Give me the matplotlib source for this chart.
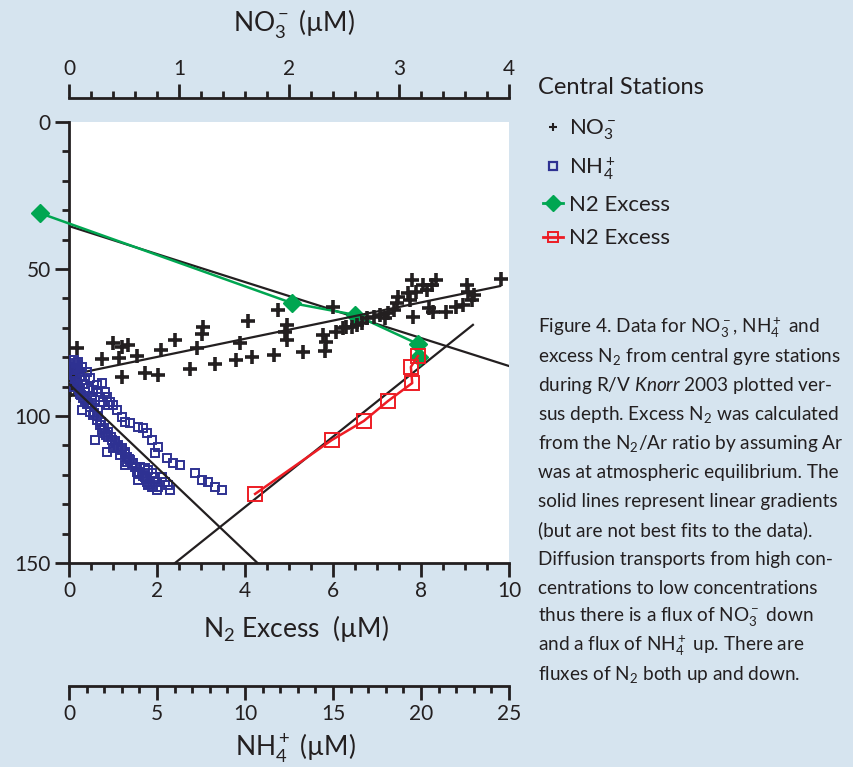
import matplotlib.pyplot as plt
from matplotlib.lines import Line2D
from matplotlib.ticker import MultipleLocator

plt.rcParams['font.family'] = ['Lato', 'DejaVu Sans']
plt.rcParams['mathtext.fontset'] = 'custom'
plt.rcParams['mathtext.rm'] = 'Lato'
plt.rcParams['mathtext.it'] = 'Lato:italic'
plt.rcParams['mathtext.default'] = 'rm'

BG = '#d6e4ef'
INK = '#231f20'
BLUE = '#2e3192'
GREEN = '#00a651'
RED = '#ed1c24'

# NO3- (uM) and depth (m)
no3_conc = [0.00, 0.02, 0.00, 0.03, 0.01, 0.04, 0.00, 0.05, 0.07, 0.30, 0.40, 0.48,
            0.54, 0.45, 0.62, 0.48, 0.69, 0.81, 0.84, 0.96, 1.10, 1.16, 1.21, 1.22,
            1.33, 1.52, 1.55, 1.63, 1.66, 1.86, 1.90, 1.98, 1.98, 1.96, 2.13, 2.31,
            2.34, 2.33, 2.40, 2.43, 2.49, 2.52, 2.57, 2.62, 2.66, 2.71, 2.77, 2.83,
            2.87, 2.90, 2.95, 2.98, 2.99, 3.08, 3.12, 3.10, 3.15, 3.22, 3.25, 3.30,
            3.34, 3.13, 3.27, 3.31, 3.43, 3.52, 3.58, 3.62, 3.63, 3.66, 3.68, 3.93]
no3_depth = [84.0, 86.0, 88.0, 89.0, 91.0, 87.0, 93.0, 90.0, 77.0, 80.7, 75.3, 76.6,
             75.9, 80.4, 79.5, 86.8, 85.3, 86.1, 77.6, 74.1, 84.1, 77.0, 72.1, 69.6,
             82.3, 81.0, 75.1, 67.7, 80.0, 79.3, 63.9, 69.0, 74.1, 71.3, 78.1, 72.4,
             74.7, 77.8, 63.0, 71.3, 70.2, 69.6, 69.6, 69.0, 68.5, 66.8, 66.2, 65.6,
             66.8, 65.1, 63.9, 61.7, 59.4, 58.3, 53.7, 60.5, 57.7, 55.4, 57.1, 55.4,
             53.7, 66.2, 63.4, 64.5, 64.5, 62.8, 62.2, 55.4, 57.7, 60.5, 58.8, 53.4]

# NH4+ (uM) and depth (m)
nh4_conc = [0.30, 0.40, 0.50, 0.35, 0.60, 0.25, 0.45, 0.80, 0.30, 0.55, 0.70, 0.90,
            0.53, 0.72, 0.44, 1.00, 0.63, 0.91, 1.19, 1.86, 1.57, 1.10, 1.38, 1.66,
            2.05, 1.29, 1.76, 2.14, 2.33, 1.95, 1.48, 1.10, 2.52, 2.23, 2.71, 1.66,
            0.72, 1.19, 1.38, 2.99, 1.57, 3.18, 3.47, 1.76, 3.94, 4.22, 1.86, 4.41,
            2.05, 2.23, 4.70, 1.48, 2.42, 2.61, 5.07, 2.80, 2.99, 2.52, 2.14, 3.18,
            4.89, 2.90, 3.28, 5.55, 3.47, 5.93, 3.65, 6.31, 3.18, 3.75, 4.03, 4.32,
            3.85, 4.13, 4.51, 4.70, 7.16, 4.89, 5.27, 4.32, 3.94, 4.41, 4.89, 5.46,
            5.64, 7.54, 7.92, 8.30, 8.68, 4.70, 5.74, 5.07,
            0.80, 1.00, 1.20, 1.40, 1.60, 1.80, 2.00, 2.20, 2.40, 2.60, 2.80, 3.00,
            3.20, 3.40, 3.60, 3.80, 4.00, 4.20, 4.40, 4.60, 4.80, 5.00, 2.10, 2.70,
            3.30, 3.90, 4.50, 1.30, 0.60, 0.90, 0.20, 0.35, 0.50, 0.65]
nh4_depth = [81.0, 82.0, 81.5, 84.0, 85.0, 86.0, 88.0, 89.0, 90.0, 91.0, 93.0, 94.5,
             82.7, 83.2, 84.4, 84.9, 86.6, 87.8, 87.2, 88.9, 89.5, 90.6, 91.2, 91.7,
             91.7, 93.4, 93.4, 93.4, 95.1, 95.1, 94.6, 95.7, 96.3, 96.3, 97.9, 97.9,
             97.9, 98.5, 99.7, 100.2, 101.4, 101.9, 102.5, 103.0, 103.6, 104.2, 104.8, 105.9,
             105.9, 107.0, 108.2, 108.2, 108.2, 109.3, 110.4, 110.4, 111.0, 111.0, 112.2, 112.2,
             112.7, 113.3, 113.8, 114.4, 115.0, 115.9, 116.1, 116.7, 116.7, 117.2, 117.2, 117.8,
             119.0, 119.5, 118.4, 119.5, 119.5, 120.7, 120.7, 120.7, 121.8, 122.3, 122.3, 122.3,
             123.4, 121.8, 122.3, 124.0, 125.2, 124.0, 125.0, 124.0,
             94.0, 96.0, 97.0, 99.0, 100.0, 102.0, 104.0, 105.5, 107.0, 108.5, 110.0, 111.5,
             113.0, 114.5, 116.0, 117.5, 119.0, 120.5, 121.5, 123.0, 124.0, 125.0, 106.5, 110.5,
             115.5, 119.8, 123.5, 95.5, 90.5, 92.0, 83.5, 87.0, 89.5, 92.5]

# N2 excess (uM) and depth (m), two sets
n2_green_conc = [-0.66, 5.07, 6.50, 7.93, 7.95]
n2_green_depth = [31.0, 61.6, 65.6, 75.5, 80.0]
n2_red_conc = [4.23, 5.97, 6.70, 7.25, 7.80, 7.77, 7.93]
n2_red_depth = [126.5, 108.2, 101.7, 94.9, 88.8, 83.3, 79.6]

# linear gradients (end points)
no3_grad_conc, no3_grad_depth = [0.0, 3.92], [86.1, 55.8]
nh4_grad_conc, nh4_grad_depth = [0.0, 10.71], [89.1, 150.0]
n2_down_conc, n2_down_depth = [0.0, 10.0], [35.4, 83.0]
n2_up_conc, n2_up_depth = [2.41, 9.18], [150.0, 69.0]

caption = [
    'Figure 4. Data for NO$_3^-$, NH$_4^+$ and',
    'excess N$_2$ from central gyre stations',
    'during R/V $\\mathit{Knorr}$ 2003 plotted ver-',
    'sus depth. Excess N$_2$ was calculated',
    'from the N$_2$/Ar ratio by assuming Ar',
    'was at atmospheric equilibrium. The',
    'solid lines represent linear gradients',
    '(but are not best fits to the data).',
    'Diffusion transports from high con-',
    'centrations to low concentrations',
    'thus there is a flux of NO$_3^-$ down',
    'and a flux of NH$_4^+$ up. There are',
    'fluxes of N$_2$ both up and down.',
]

W, H = 854, 767
fig = plt.figure(figsize=(W / 100, H / 100), dpi=100, facecolor=BG)
ax = fig.add_axes([69 / W, 1 - 563 / H, 440 / W, 441 / H])
ax.set_facecolor('white')
ax.set_xlim(0, 10)
ax.set_ylim(150, 0)
for s in ['top', 'right']:
    ax.spines[s].set_visible(False)
for s in ['left', 'bottom']:
    ax.spines[s].set_linewidth(2)
    ax.spines[s].set_color(INK)
ax.set_xticks(range(0, 11, 2))
ax.xaxis.set_minor_locator(MultipleLocator(0.5))
ax.set_yticks([0, 50, 100, 150])
ax.yaxis.set_minor_locator(MultipleLocator(10))
ax.tick_params(which='major', length=10, width=2, color=INK, labelsize=15,
               labelcolor=INK, pad=3)
ax.tick_params(which='minor', length=5, width=2, color=INK)

# NO3 scale on top
ax_no3 = ax.twiny()
ax_no3.set_xlim(0, 4)
for s in ['bottom', 'left', 'right']:
    ax_no3.spines[s].set_visible(False)
ax_no3.spines['top'].set_position(('outward', 17))
ax_no3.spines['top'].set_linewidth(2)
ax_no3.spines['top'].set_color(INK)
ax_no3.set_xticks(range(0, 5))
ax_no3.xaxis.set_minor_locator(MultipleLocator(0.2))
ax_no3.tick_params(which='major', length=10, width=2, color=INK, labelsize=15,
                   labelcolor=INK, pad=4)
ax_no3.tick_params(which='minor', length=5, width=2, color=INK)

# NH4 scale below
ax_nh4 = ax.twiny()
ax_nh4.set_xlim(0, 25)
ax_nh4.xaxis.set_ticks_position('bottom')
ax_nh4.xaxis.set_label_position('bottom')
for s in ['top', 'left', 'right']:
    ax_nh4.spines[s].set_visible(False)
ax_nh4.spines['bottom'].set_position(('outward', 88.5))
ax_nh4.spines['bottom'].set_linewidth(2)
ax_nh4.spines['bottom'].set_color(INK)
ax_nh4.set_xticks(range(0, 26, 5))
ax_nh4.xaxis.set_minor_locator(MultipleLocator(1))
ax_nh4.tick_params(which='major', length=10, width=2, color=INK, labelsize=15,
                   labelcolor=INK, pad=3)
ax_nh4.tick_params(which='minor', length=5, width=2, color=INK)

# data
ax_nh4.plot(nh4_conc, nh4_depth, ls='none', marker='s', ms=5.5, mfc='none',
            mec=BLUE, mew=1.4)
ax_no3.plot(no3_conc, no3_depth, ls='none', marker='+', ms=10, mew=2.6, color=INK)
ax.plot(n2_green_conc, n2_green_depth, color=GREEN, lw=1.8, marker='D', ms=9,
        clip_on=False, zorder=4)
ax.plot(n2_red_conc, n2_red_depth, color=RED, lw=1.8, marker='s', ms=10,
        mfc='none', mew=1.4, zorder=4)

# gradients
ax_no3.plot(no3_grad_conc, no3_grad_depth, color=INK, lw=1.6)
ax_nh4.plot(nh4_grad_conc, nh4_grad_depth, color=INK, lw=1.6)
ax.plot(n2_down_conc, n2_down_depth, color=INK, lw=1.6, zorder=3)
ax.plot(n2_up_conc, n2_up_depth, color=INK, lw=1.6, zorder=3)

# axis titles
fig.text(294 / W, 1 - 24 / H, 'NO$_3^-$ (\u00b5M)', ha='center', va='center',
         fontsize=19, color=INK)
fig.text(296 / W, 1 - 628 / H, 'N$_2$ Excess  (\u00b5M)', ha='center', va='center',
         fontsize=19, color=INK)
fig.text(295 / W, 1 - 748 / H, 'NH$_4^+$ (\u00b5M)', ha='center', va='center',
         fontsize=19, color=INK)

# legend
fig.text(538 / W, 1 - 87 / H, 'Central Stations', ha='left', va='center',
         fontsize=17, color=INK)
handles = [
    Line2D([], [], ls='none', marker='+', ms=6, mew=1.5, color=INK),
    Line2D([], [], ls='none', marker='s', ms=6, mfc='none', mec=BLUE, mew=1.6),
    Line2D([], [], color=GREEN, lw=2, marker='D', ms=8),
    Line2D([], [], color=RED, lw=2, marker='s', ms=7, mfc='none', mew=1.4),
]
labels = ['NO$_3^-$', 'NH$_4^+$', 'N2 Excess', 'N2 Excess']
leg = fig.legend(handles, labels, loc='upper left', bbox_to_anchor=(527 / W, 1 - 102 / H),
                 frameon=False, fontsize=16, handlelength=0.9, handletextpad=0.3,
                 labelspacing=0.6, borderpad=0.2)
for t in leg.get_texts():
    t.set_color(INK)

# caption
for i, line in enumerate(caption):
    fig.text(538 / W, 1 - (328 + i * 28.9) / H, line, ha='left', va='center',
             fontsize=13.7, color=INK)

fig.savefig('out.png', dpi=100, facecolor=BG)
